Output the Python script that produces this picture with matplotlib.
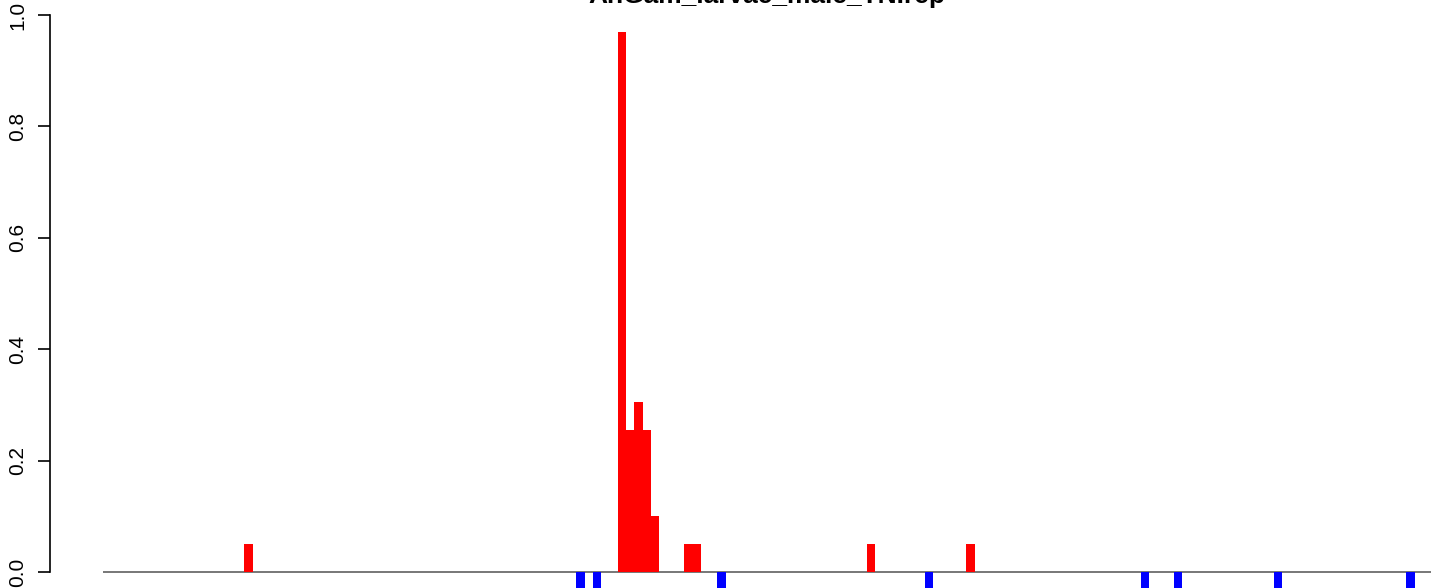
import numpy as np
import matplotlib
matplotlib.use("Agg")
from matplotlib import pyplot as plt

TITLE = "AnGam_larvae_male_TN.rep"
N_BINS = 160

# positive (red) bins and their heights
up_bins = [17, 62, 63, 64, 65, 66, 70, 71, 92, 104]
up_vals = [0.05, 0.97, 0.255, 0.305, 0.255, 0.1, 0.05, 0.05, 0.05, 0.05]

# negative (blue) bins, clipped at the bottom of the picture
down_bins = [57, 59, 74, 99, 125, 129, 141, 157]
down_vals = [-0.05, -0.05, -0.05, -0.05, -0.05, -0.05, -0.05, -0.05]

y_ticks = [0.0, 0.2, 0.4, 0.6, 0.8, 1.0]


def main():
    plt.rcParams["font.family"] = ["Liberation Sans", "DejaVu Sans"]
    fig = plt.figure(figsize=(14.44, 5.88), dpi=100)
    ax = fig.add_axes([50 / 1444, 0, 1394 / 1444, 1])

    heights = np.zeros(N_BINS)
    heights[up_bins] = up_vals
    heights[down_bins] = down_vals
    x = np.arange(N_BINS)
    colors = np.where(heights >= 0, "#ff0000", "#0000ff")
    nz = heights != 0
    ax.bar(x[nz], heights[nz], width=1.0, align="edge", color=colors[nz],
           linewidth=0, antialiased=False, zorder=2)
    # zero-height bars leave a grey line along the baseline
    ax.hlines(0, 0, N_BINS, colors="#606060", linewidth=1.2, zorder=1)

    ax.set_xlim(-6.42, 161.53)
    ax.set_ylim(-16 / 557, 1 + 15 / 557)

    for side in ("top", "right", "bottom"):
        ax.spines[side].set_visible(False)
    ax.spines["left"].set_bounds(0, 1)
    ax.spines["left"].set_linewidth(1.2)
    ax.set_xticks([])
    ax.set_yticks(y_ticks)
    ax.set_yticklabels(["%.1f" % t for t in y_ticks], rotation=90, va="center",
                       fontsize=15)
    ax.tick_params(axis="y", length=8.6, width=1.2, pad=8)

    fig.text(767 / 1444, 1 - 3 / 588, TITLE, ha="center", va="baseline",
             fontsize=19, fontweight="bold")
    fig.savefig("out.png", dpi=100)


if __name__ == "__main__":
    main()
